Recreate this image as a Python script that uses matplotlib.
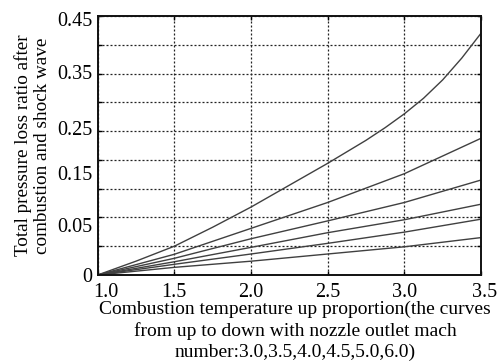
import matplotlib
matplotlib.use("Agg")
import matplotlib.pyplot as plt
from matplotlib.ticker import MultipleLocator, FixedLocator
from matplotlib.transforms import ScaledTranslation

plt.rcParams['font.family'] = ['Liberation Serif', 'DejaVu Serif']

# combustion temperature up proportion (x values)
temp_ratio = [1.0, 1.5, 2.0, 2.5, 3.0, 3.5]
temp_ratio_fine = [1.0, 1.25, 1.5, 1.75, 2.0, 2.25, 2.5, 2.75, 2.875, 3.0,
                   3.125, 3.25, 3.375, 3.5]

# total pressure loss ratio, nozzle outlet mach 3.0 (top) ... 6.0 (bottom)
loss_m30 = [0.0, 0.024, 0.050, 0.083, 0.118, 0.156, 0.194, 0.234, 0.256, 0.280,
            0.307, 0.339, 0.377, 0.420]
loss_m35 = [0.0, 0.036, 0.081, 0.126, 0.176, 0.2375]
loss_m40 = [0.0, 0.029, 0.063, 0.094, 0.126, 0.165]
loss_m45 = [0.0, 0.023, 0.048, 0.0735, 0.096, 0.123]
loss_m50 = [0.0, 0.0186, 0.0365, 0.055, 0.0745, 0.097]
loss_m60 = [0.0, 0.0133, 0.024, 0.0365, 0.049, 0.065]

# y tick labels as printed (the 0.15 / 0.05 labels sit above their grid lines)
ytick_labels = ['0', '0.05', '0.15', '0.25', '0.35', '0.45']
ytick_label_pos = [0.0, 0.087, 0.177, 0.255, 0.353, 0.445]
xtick_labels = ['1.0', '1.5', '2.0', '2.5', '3.0', '3.5']

fig = plt.figure(figsize=(4.97, 3.62), dpi=100)
ax = fig.add_axes([0.1964, 0.2403, 0.7714, 0.7155])

line_color = '#404040'
ax.plot(temp_ratio_fine, loss_m30, color=line_color, lw=1.0)
for series in [loss_m35, loss_m40, loss_m45, loss_m50, loss_m60]:
    ax.plot(temp_ratio, series, color=line_color, lw=1.0)

ax.set_xlim(1.0, 3.5)
ax.set_ylim(0, 0.45)

# x axis
ax.set_xticks(temp_ratio)
ax.set_xticklabels(xtick_labels)

# y axis: labels on major ticks, grid + marks on minor ticks
ax.yaxis.set_major_locator(FixedLocator(ytick_label_pos))
ax.set_yticklabels(ytick_labels)
ax.yaxis.set_minor_locator(MultipleLocator(0.05))

ax.tick_params(axis='y', which='major', length=0, pad=4, labelsize=14.5)
ax.tick_params(axis='y', which='minor', direction='in', length=3, width=1,
               left=True, right=True)
ax.tick_params(axis='x', which='major', direction='in', length=3, width=1,
               top=True, bottom=True, labelsize=14.5, pad=6)

# first and last x labels are nudged right in the original
xlabels = ax.get_xticklabels()
xlabels[0].set_transform(xlabels[0].get_transform() +
                         ScaledTranslation(0.08, 0, fig.dpi_scale_trans))
xlabels[-1].set_transform(xlabels[-1].get_transform() +
                          ScaledTranslation(0.04, 0, fig.dpi_scale_trans))

grid_style = dict(color='#222222', linestyle=(0, (1.6, 1.6)), linewidth=0.9)
ax.grid(True, axis='x', which='major', **grid_style)
ax.grid(True, axis='y', which='minor', **grid_style)
ax.grid(False, axis='y', which='major')

for sp in ax.spines.values():
    sp.set_linewidth(1.4)
    sp.set_color('#111111')

ax.set_ylabel("Total pressure loss ratio after\ncombustion and shock wave",
              fontsize=13.8, linespacing=1.15)
ax.yaxis.set_label_coords(-0.1215, 0.5)

ax.set_xlabel("Combustion temperature up proportion(the curves\n"
              "from up to down with nozzle outlet mach\n"
              "number:3.0,3.5,4.0,4.5,5.0,6.0)",
              fontsize=14, linespacing=1.3)
ax.xaxis.set_label_coords(0.515, -0.098)

fig.savefig("out.png", dpi=100)
